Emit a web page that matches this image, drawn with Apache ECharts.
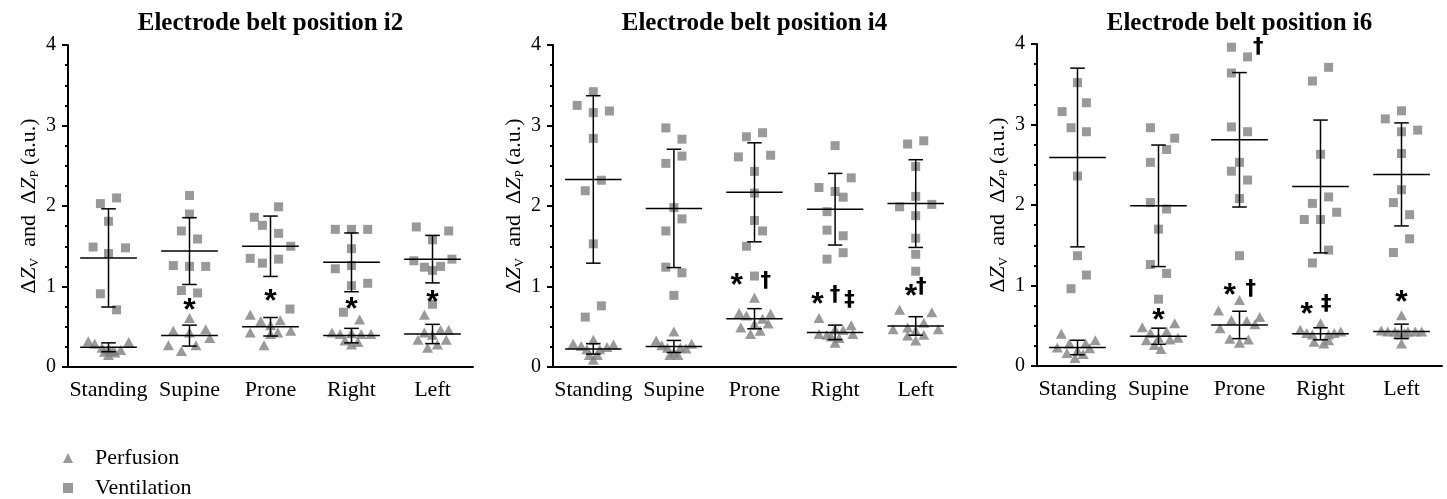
<!DOCTYPE html>
<html><head><meta charset="utf-8">
<script src="https://cdn.jsdelivr.net/npm/echarts@6/dist/echarts.min.js"></script>
<style>html,body{margin:0;padding:0;background:#fff}#c{width:1447px;height:499px}</style>
</head><body><div id="c"></div>
<script>
// ---------- DATA ----------
const categories = ['Standing', 'Supine', 'Prone', 'Right', 'Left'];
const panelTitles = ['Electrode belt position i2', 'Electrode belt position i4', 'Electrode belt position i6'];
const yTicks = [0, 1, 2, 3, 4];

// each point: [horizontal spread within category (category units), value]
const perfusionI2 = [
  [[-0.25,0.32],[-0.17,0.29],[-0.08,0.24],[0,0.22],[0,0.15],[0.08,0.18],[0.15,0.21],[0.25,0.31],[-0.05,0.19],[0.05,0.2]],
  [[0,0.61],[-0.2,0.45],[0.2,0.47],[0,0.43],[0.25,0.36],[-0.26,0.27],[0.08,0.27],[-0.1,0.20]],
  [[-0.25,0.65],[-0.12,0.57],[0.12,0.58],[0,0.52],[-0.25,0.43],[0.09,0.43],[0.25,0.45],[0,0.41],[-0.08,0.27]],
  [[0.1,0.59],[-0.24,0.43],[-0.14,0.41],[0,0.42],[0.12,0.41],[0.24,0.41],[-0.08,0.33],[0,0.28],[0.08,0.31]],
  [[-0.1,0.65],[-0.1,0.43],[0.1,0.46],[0.2,0.46],[-0.18,0.34],[0.17,0.34],[-0.06,0.24],[0.06,0.28],[0,0.40]]
];
const ventilationI2 = [
  [[-0.1,2.03],[0.1,2.10],[0,1.81],[-0.19,1.49],[0.21,1.48],[0,1.41],[-0.1,0.91],[0.1,0.71]],
  [[0,2.13],[0,1.90],[-0.1,1.69],[0.1,1.59],[-0.2,1.26],[0,1.25],[0.2,1.25],[-0.1,0.95],[0.1,0.92]],
  [[0.1,1.99],[-0.2,1.86],[-0.1,1.76],[0.1,1.66],[0.25,1.50],[-0.25,1.35],[-0.1,1.29],[0.1,1.34],[0.24,0.72]],
  [[-0.2,1.71],[0,1.71],[0.2,1.71],[0,1.47],[-0.2,1.22],[0,1.26],[0,1.01],[0.2,1.04],[-0.1,0.68]],
  [[-0.2,1.74],[0.2,1.69],[0,1.58],[-0.23,1.32],[0.24,1.34],[-0.1,1.24],[0.1,1.25],[0,1.20],[0,0.78]]
];
const perfMeanI2 = [0.245, 0.39, 0.50, 0.39, 0.41];
const perfSdI2   = [0.055, 0.13, 0.115, 0.09, 0.12];
const ventMeanI2 = [1.355, 1.44, 1.50, 1.30, 1.34];
const ventSdI2   = [0.61, 0.415, 0.375, 0.365, 0.295];
// [category, spread, value, mark]
const marksI2 = [[1,0,0.79,'*'],[2,0,0.90,'*'],[3,0,0.80,'*'],[4,0,0.89,'*']];

const perfusionI4 = [
  [[-0.25,0.29],[-0.15,0.26],[0,0.34],[-0.08,0.22],[0.08,0.22],[0.17,0.25],[0.25,0.28],[-0.05,0.15],[0.05,0.15],[0,0.09]],
  [[0,0.44],[-0.22,0.33],[0.22,0.29],[-0.15,0.27],[-0.08,0.24],[0.08,0.24],[0.15,0.23],[0,0.18],[-0.05,0.15],[0.05,0.15]],
  [[0,0.86],[-0.19,0.67],[0.2,0.66],[-0.1,0.64],[0.1,0.60],[0,0.53],[-0.17,0.49],[0.17,0.54],[-0.05,0.41],[0.07,0.45]],
  [[-0.2,0.61],[-0.2,0.41],[-0.1,0.40],[0,0.47],[0.1,0.46],[0.2,0.52],[0.22,0.41],[0,0.30],[-0.05,0.38],[0.05,0.36]],
  [[-0.2,0.71],[0.2,0.68],[-0.28,0.47],[-0.1,0.49],[0.1,0.55],[0.28,0.47],[0,0.45],[-0.1,0.39],[0,0.33],[0.1,0.40]]
];
const ventilationI4 = [
  [[-0.2,3.25],[0,3.42],[0,3.16],[0.2,3.18],[0,2.84],[-0.1,2.19],[0.1,2.32],[0,1.53],[-0.1,0.62],[0.1,0.76]],
  [[-0.1,2.97],[0.1,2.83],[-0.1,2.53],[0.1,2.62],[0,1.98],[0.1,1.84],[-0.1,1.69],[-0.1,1.24],[0.1,1.17],[0,0.89]],
  [[-0.1,2.86],[0.1,2.91],[-0.2,2.61],[0.2,2.63],[0,2.43],[0,2.16],[0,1.82],[0.1,1.69],[-0.1,1.50],[0,1.13]],
  [[0,2.75],[-0.2,2.23],[0.2,2.35],[0,2.18],[0.1,2.11],[-0.1,1.93],[-0.1,1.70],[0.1,1.63],[0.1,1.42],[-0.1,1.34]],
  [[-0.1,2.77],[0.1,2.81],[0,2.49],[0,2.12],[-0.2,1.99],[0.2,2.02],[0,1.88],[0,1.60],[0,1.40],[0,1.19]]
];
const perfMeanI4 = [0.225, 0.255, 0.60, 0.43, 0.51];
const perfSdI4   = [0.065, 0.075, 0.125, 0.09, 0.115];
const ventMeanI4 = [2.33, 1.97, 2.17, 1.96, 2.03];
const ventSdI4   = [1.04, 0.735, 0.615, 0.445, 0.545];
const marksI4 = [[2,-0.22,1.10,'*'],[2,0.14,1.06,'†'],[3,-0.22,0.86,'*'],[3,0,0.89,'†'],[3,0.18,0.83,'‡'],[4,-0.06,0.96,'*'],[4,0.07,0.99,'†']];

const perfusionI6 = [
  [[-0.2,0.40],[-0.1,0.28],[0.1,0.28],[0.22,0.32],[-0.25,0.23],[-0.13,0.16],[-0.03,0.10],[0.07,0.15],[0.15,0.22],[0,0.19]],
  [[-0.2,0.48],[0.2,0.53],[-0.1,0.41],[0.1,0.43],[0,0.35],[-0.15,0.32],[0.14,0.33],[0.24,0.35],[-0.05,0.26],[0.03,0.21]],
  [[0,0.82],[-0.26,0.69],[0.25,0.61],[-0.1,0.57],[0.09,0.56],[-0.24,0.47],[0.19,0.52],[-0.12,0.34],[0,0.29],[0.11,0.33]],
  [[-0.25,0.45],[0,0.53],[0.25,0.43],[-0.1,0.39],[0.1,0.39],[-0.08,0.30],[0.04,0.28],[-0.17,0.41],[0.17,0.41],[0.1,0.32]],
  [[0,0.63],[-0.25,0.44],[-0.17,0.43],[-0.08,0.43],[0.08,0.43],[0.17,0.43],[0.25,0.43],[-0.04,0.40],[0.04,0.41],[0,0.28]]
];
const ventilationI6 = [
  [[0,3.52],[-0.19,3.16],[0.11,3.27],[-0.08,2.96],[0.11,2.91],[0,2.36],[0,1.37],[0.11,1.13],[-0.08,0.96]],
  [[-0.1,2.96],[0.2,2.83],[0.1,2.69],[-0.1,2.53],[-0.1,2.03],[0.1,1.95],[0,1.70],[-0.1,1.26],[0.1,1.15],[0,0.83]],
  [[-0.1,3.96],[0.1,3.84],[-0.1,3.64],[-0.1,2.97],[0.1,2.91],[0,2.53],[-0.1,2.42],[0.1,2.31],[0,2.08],[0,1.37]],
  [[0.1,3.71],[-0.1,3.54],[0,2.63],[-0.1,2.02],[0.1,2.10],[-0.2,1.82],[0,1.82],[0.2,1.91],[0.1,1.44],[-0.1,1.28]],
  [[-0.2,3.07],[0,3.17],[0,2.91],[0.2,2.93],[0,2.64],[0,2.19],[-0.1,2.03],[0.1,1.88],[0.1,1.58],[-0.1,1.41]]
];
const perfMeanI6 = [0.23, 0.37, 0.51, 0.40, 0.43];
const perfSdI6   = [0.09, 0.10, 0.17, 0.075, 0.09];
const ventMeanI6 = [2.59, 1.99, 2.81, 2.23, 2.38];
const ventSdI6   = [1.11, 0.755, 0.835, 0.825, 0.64];
const marksI6 = [[1,0,0.655,'*'],[2,-0.12,0.965,'*'],[2,0.14,0.945,'†'],[3,-0.17,0.73,'*'],[3,0.07,0.76,'‡'],[4,0,0.87,'*'],[2,0.23,3.96,'†']];

// ---------- CHART ----------
const panels = [
  {perf: perfusionI2, vent: ventilationI2, pm: perfMeanI2, ps: perfSdI2, vm: ventMeanI2, vs: ventSdI2, marks: marksI2},
  {perf: perfusionI4, vent: ventilationI4, pm: perfMeanI4, ps: perfSdI4, vm: ventMeanI4, vs: ventSdI4, marks: marksI4},
  {perf: perfusionI6, vent: ventilationI6, pm: perfMeanI6, ps: perfSdI6, vm: ventMeanI6, vs: ventSdI6, marks: marksI6}
];
const gridBoxes = [
  {left: 68, top: 45, width: 405, height: 322},
  {left: 553, top: 45, width: 403, height: 322},
  {left: 1037, top: 44, width: 405, height: 322}
];
const SERIF = 'Liberation Serif';
const GRAY = '#7f7f7f';

const option = {
  animation: false,
  backgroundColor: '#fff',
  title: [], grid: [], xAxis: [], yAxis: [], series: [],
  legend: {
    orient: 'vertical', left: 63, top: 447, padding: 0,
    itemWidth: 10, itemHeight: 10, itemGap: 8,
    selectedMode: false,
    data: [{name: 'Perfusion', icon: 'triangle'}, {name: 'Ventilation', icon: 'rect'}],
    textStyle: {fontFamily: SERIF, fontSize: 22, color: '#000', padding: [0, 0, 0, 17]}
  }
};

function flat(groups) {
  const out = [];
  groups.forEach((g, k) => g.forEach(p => out.push([k + p[0], p[1]])));
  return out;
}
function meanSd(gi, means, sds) {
  return {
    type: 'custom', xAxisIndex: 2 * gi + 1, yAxisIndex: gi, z: 5, silent: true,
    data: means.map((m, k) => [k, m, sds[k]]),
    renderItem(params, api) {
      const k = api.value(0), m = api.value(1), s = api.value(2);
      const c = api.coord([k, m]), hi = api.coord([k, m + s]), lo = api.coord([k, m - s]);
      const bw = api.size([1, 0])[0];
      const half = bw * 0.35, cap = bw * 0.09;
      const st = {stroke: '#000', lineWidth: 1.5};
      return {type: 'group', children: [
        {type: 'line', shape: {x1: c[0] - half, y1: c[1], x2: c[0] + half, y2: c[1]}, style: st},
        {type: 'line', shape: {x1: c[0], y1: hi[1], x2: c[0], y2: lo[1]}, style: st},
        {type: 'line', shape: {x1: c[0] - cap, y1: hi[1], x2: c[0] + cap, y2: hi[1]}, style: st},
        {type: 'line', shape: {x1: c[0] - cap, y1: lo[1], x2: c[0] + cap, y2: lo[1]}, style: st}
      ]};
    }
  };
}
function markSeries(gi, marks) {
  return {
    type: 'custom', xAxisIndex: 2 * gi + 1, yAxisIndex: gi, z: 6, silent: true,
    data: marks.map((a, i) => [a[0] + a[1], a[2], i]),
    renderItem(params, api) {
      const p = api.coord([api.value(0), api.value(1)]);
      const t = marks[api.value(2)][3];
      const star = t === '*';
      const fs = star ? 32 : 21;
      return {type: 'text', x: p[0], y: p[1] + (star ? fs * 0.24 : 0),
        style: {text: t, fontFamily: star ? 'Liberation Sans' : 'DejaVu Sans', fontWeight: 'bold', fontSize: fs,
          fill: '#000', align: 'center', verticalAlign: 'middle'}};
    }
  };
}

panels.forEach((P, gi) => {
  const g = gridBoxes[gi];
  option.grid.push(Object.assign({containLabel: false}, g));
  option.title.push({
    text: panelTitles[gi], left: g.left + g.width / 2, top: 11, textAlign: 'center', padding: 0,
    textStyle: {fontFamily: SERIF, fontWeight: 'bold', fontSize: 25, color: '#000'}
  });
  option.xAxis.push({
    type: 'category', gridIndex: gi, data: categories, boundaryGap: true,
    axisLine: {onZero: false, lineStyle: {color: '#000', width: 2}},
    axisTick: {alignWithLabel: true, length: 6, lineStyle: {color: '#000', width: 2}},
    axisLabel: {interval: 0, color: '#000', fontFamily: SERIF, fontSize: 22, margin: 12},
    splitLine: {show: false}
  });
  option.xAxis.push({type: 'value', gridIndex: gi, min: -0.5, max: 4.5, show: false, splitLine: {show: false}});
  option.yAxis.push({
    type: 'value', gridIndex: gi, min: yTicks[0], max: yTicks[yTicks.length - 1], interval: 1,
    axisLine: {show: true, onZero: false, lineStyle: {color: '#000', width: 2}},
    axisTick: {show: true, length: 6, lineStyle: {color: '#000', width: 2}},
    minorTick: {show: true, splitNumber: 4, length: 3, lineStyle: {color: '#000', width: 2}},
    splitLine: {show: false},
    axisLabel: {color: '#000', fontFamily: SERIF, fontSize: 20, margin: 12},
    name: '{n|Δ}{z|Z}{s|V}{n|  and  Δ}{z|Z}{s|P}{n| (a.u.)}',
    nameLocation: 'middle', nameRotate: 90, nameGap: 27,
    nameTextStyle: {
      color: '#000', fontFamily: SERIF, fontSize: 22,
      rich: {
        n: {fontFamily: SERIF, fontSize: 22, color: '#000', lineHeight: 24},
        z: {fontFamily: SERIF, fontSize: 22, color: '#000', lineHeight: 24, fontStyle: 'italic'},
        s: {fontFamily: SERIF, fontSize: 13, color: '#000', lineHeight: 12, verticalAlign: 'bottom'}
      }
    }
  });
  option.series.push({
    type: 'scatter', name: 'Ventilation', xAxisIndex: 2 * gi + 1, yAxisIndex: gi,
    symbol: 'rect', symbolSize: 9, itemStyle: {color: GRAY}, emphasis: {disabled: true},
    data: flat(P.vent)
  });
  option.series.push({
    type: 'scatter', name: 'Perfusion', xAxisIndex: 2 * gi + 1, yAxisIndex: gi,
    symbol: 'triangle', symbolSize: [11, 10], itemStyle: {color: GRAY}, emphasis: {disabled: true},
    data: flat(P.perf)
  });
  option.series.push(meanSd(gi, P.vm, P.vs));
  option.series.push(meanSd(gi, P.pm, P.ps));
  option.series.push(markSeries(gi, P.marks));
});

const chart = echarts.init(document.getElementById('c'));
chart.setOption(option);
</script>
</body></html>
